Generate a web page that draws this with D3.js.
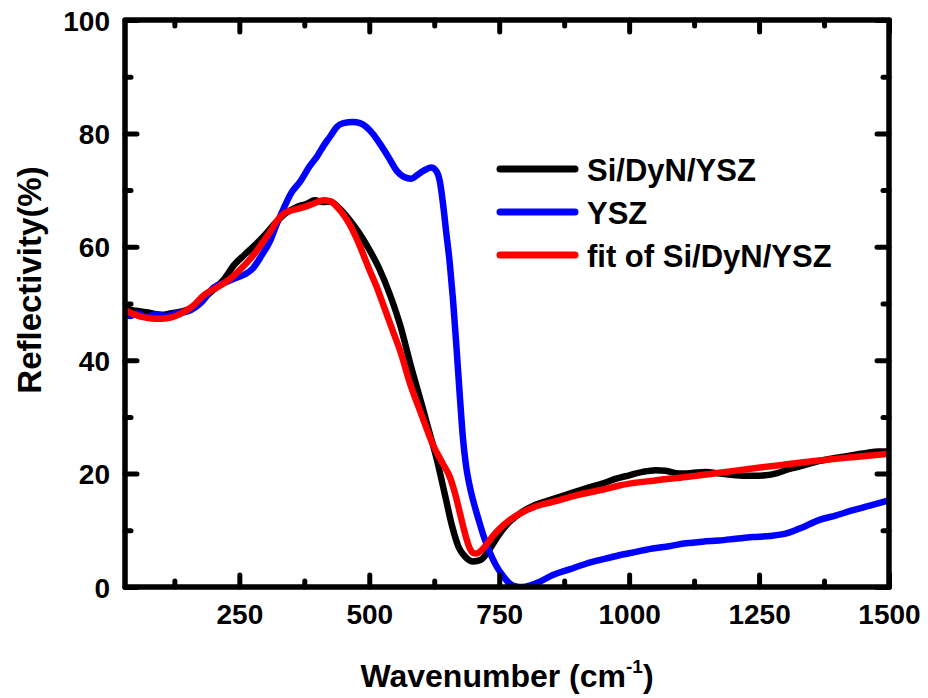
<!DOCTYPE html>
<html><head><meta charset="utf-8">
<script src="https://cdn.jsdelivr.net/npm/d3@7"></script>
<style>body{margin:0;background:#fff}svg{display:block}text{font-family:"Liberation Sans",Arial,sans-serif;font-weight:bold}</style>
</head><body>
<svg id="c" width="928" height="698"></svg>
<script>
const xTicks = [250, 500, 750, 1000, 1250, 1500];
const xMinor = [125, 375, 625, 875, 1125, 1375];
const yTicks = [0, 20, 40, 60, 80, 100];
const yMinor = [10, 30, 50, 70, 90];
const seriesNames = ["Si/DyN/YSZ", "YSZ", "fit of Si/DyN/YSZ"];
const seriesColors = ["#000000", "#0000ff", "#ff0000"];

const sampleX = [30,45,60,80,100,120,140,160,180,200,220,240,260,280,300,320,340,360,380,395,410,425,440,460,480,500,520,540,560,580,600,615,630,645,660,672,685,700,715,730,750,770,790,820,853,880,917,950,975,1000,1026,1051,1070,1096,1120,1147,1175,1205,1235,1262,1285,1301,1330,1365,1400,1454,1480,1500];
const sampleY = [49.3,48.8,48.6,48.3,48.0,48.3,48.6,49.3,50.8,52.4,54.2,56.8,58.6,60.3,62.2,64.3,66.0,67.0,67.6,68.2,67.9,68.0,67.0,65.0,62.5,59.5,56.0,51.5,46.0,39.0,32.5,27.5,22.5,16.5,10.5,7.0,5.3,4.5,4.8,6.5,9.3,11.5,13.0,14.5,15.5,16.3,17.4,18.3,19.1,19.7,20.3,20.6,20.5,20.0,20.1,20.3,20.0,19.7,19.6,19.7,20.1,20.6,21.3,22.2,22.8,23.6,23.9,23.9];

const yszX = [30,40,55,70,90,110,130,150,180,200,225,246,262,277,293,309,322,335,350,367,386,400,412,425,437,450,469,482,495,508,521,537,553,567,581,593,604,620,630,636,642,648,655,661,668,674,680,686,692,700,710,720,731,744,757,770,782,795,810,827,853,885,917,950,981,1013,1045,1077,1109,1141,1173,1205,1237,1270,1301,1333,1365,1397,1429,1465,1500];
const yszY = [48.5,47.8,48.3,47.6,48.1,47.8,48.3,48.6,50.5,52.8,53.8,54.6,55.2,56.3,58.5,61.0,64.0,66.7,69.5,71.5,74.3,76.0,77.8,79.5,81.1,81.8,82.0,81.8,81.1,79.8,78.1,75.8,73.4,72.3,72.0,72.7,73.4,74.0,73.2,71.4,67.5,62.6,57.0,50.8,42.0,34.0,26.5,21.5,18.3,15.2,12.0,9.0,6.3,3.8,2.0,0.6,0.1,0.0,0.3,0.9,2.1,3.1,4.1,4.9,5.6,6.2,6.8,7.2,7.7,8.0,8.2,8.5,8.8,9.0,9.4,10.5,11.8,12.6,13.5,14.4,15.3];

const fitX = [30,50,70,90,110,137,160,181,210,233,255,277,295,309,322,335,350,367,390,412,425,444,460,476,490,500,514,530,546,560,578,600,623,640,655,665,674,684,693,700,706,715,725,738,751,770,789,820,853,900,950,981,1050,1109,1170,1237,1300,1365,1430,1500];
const fitY = [48.8,48.0,47.5,47.3,47.4,48.2,49.5,51.4,53.0,54.4,56.3,58.5,60.8,62.6,64.5,65.8,66.4,66.8,67.5,68.2,68.0,66.4,64.3,61.4,58.3,56.0,53.0,49.0,45.0,41.5,36.0,30.5,25.0,22.0,19.4,16.5,13.2,9.5,6.9,6.0,5.9,6.4,7.4,9.0,10.3,11.8,12.9,14.2,15.0,16.2,17.2,17.9,18.8,19.4,20.1,20.9,21.6,22.3,22.9,23.5];

const svg = d3.select("#c");
const L = 125, R = 889, T = 20, B = 587;
const x = d3.scaleLinear().domain([30, 1500]).range([L, R]);
const y = d3.scaleLinear().domain([0, 100]).range([B, T]);

svg.append("defs").append("clipPath").attr("id","clip")
  .append("rect").attr("x", L).attr("y", T).attr("width", R-L).attr("height", B-T);

const line = d3.line().x(d => x(d[0])).y(d => y(d[1])).curve(d3.curveMonotoneX);
const series = [
  d3.zip(sampleX, sampleY),
  d3.zip(yszX, yszY),
  d3.zip(fitX, fitY)
];
const g = svg.append("g").attr("clip-path","url(#clip)");
series.forEach((s,i) => {
  g.append("path").datum(s).attr("d", line).attr("fill","none")
   .attr("stroke", seriesColors[i]).attr("stroke-width", 6.5)
   .attr("stroke-linejoin","round").attr("stroke-linecap","round");
});

const fmt = d3.format("d");
const tickStyle = sel => sel.attr("stroke","#000").attr("stroke-width",5).attr("stroke-linecap","round");
function axisTicks(axisGen, transform) {
  const a = svg.append("g").attr("transform", transform).call(axisGen);
  a.select(".domain").remove();
  a.selectAll(".tick line").call(tickStyle);
  return a;
}
// bottom
const bx = axisTicks(d3.axisBottom(x).tickValues(xTicks).tickSize(-12).tickFormat(fmt), `translate(0,${B})`);
bx.selectAll("text").attr("font-size", 28).attr("fill","#000").attr("dy","0.71em").attr("y", 17);
axisTicks(d3.axisBottom(x).tickValues(xMinor).tickSize(-6).tickFormat(""), `translate(0,${B})`);
// top
axisTicks(d3.axisTop(x).tickValues(xTicks).tickSize(-12).tickFormat(""), `translate(0,${T})`);
axisTicks(d3.axisTop(x).tickValues(xMinor).tickSize(-6).tickFormat(""), `translate(0,${T})`);
// left
const ly = axisTicks(d3.axisLeft(y).tickValues(yTicks).tickSize(-12).tickFormat(fmt), `translate(${L},0)`);
ly.selectAll("text").attr("font-size", 28).attr("fill","#000").attr("x", -15).attr("dy","0.36em");
axisTicks(d3.axisLeft(y).tickValues(yMinor).tickSize(-6).tickFormat(""), `translate(${L},0)`);
// right
axisTicks(d3.axisRight(y).tickValues(yTicks).tickSize(-12).tickFormat(""), `translate(${R},0)`);
axisTicks(d3.axisRight(y).tickValues(yMinor).tickSize(-6).tickFormat(""), `translate(${R},0)`);

// frame
svg.append("rect").attr("x", L).attr("y", T).attr("width", R-L).attr("height", B-T)
  .attr("fill","none").attr("stroke","#000").attr("stroke-width",5.5).attr("stroke-linejoin","round");

// axis titles
const xt = svg.append("text").attr("x", (L+R)/2).attr("y", 687).attr("text-anchor","middle")
  .attr("font-size", 32).attr("fill","#000");
xt.append("tspan").text("Wavenumber (cm");
xt.append("tspan").text("-1").attr("font-size", 19).attr("dy", -14);
xt.append("tspan").text(")").attr("dy", 14);

svg.append("text").attr("transform","translate(41,280) rotate(-90)").attr("text-anchor","middle")
  .attr("font-size", 33).attr("fill","#000").text("Reflectivity(%)");

// legend
const lg = svg.append("g");
seriesNames.forEach((n,i) => {
  const yy = 169 + i*43;
  lg.append("line").attr("x1", 500).attr("x2", 575).attr("y1", yy).attr("y2", yy)
    .attr("stroke", seriesColors[i]).attr("stroke-width", 7).attr("stroke-linecap","round");
  lg.append("text").attr("x", 587).attr("y", yy + 11.5).attr("font-size", 31).attr("fill","#000").text(n);
});
</script>
</body></html>
